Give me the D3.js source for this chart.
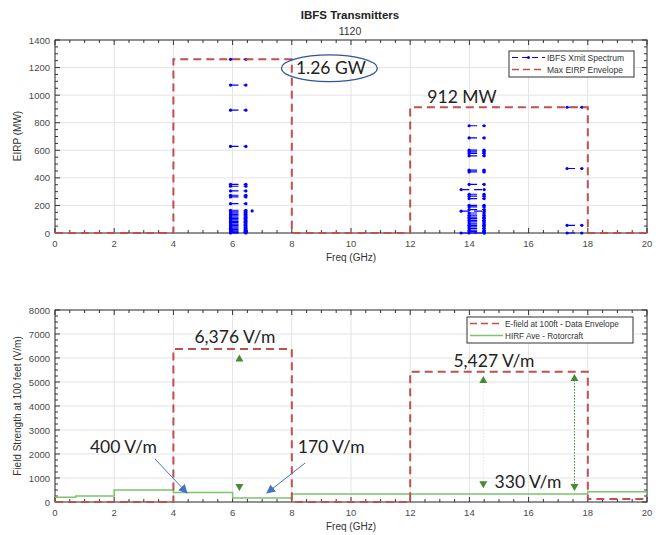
<!DOCTYPE html>
<html>
<head>
<meta charset="utf-8">
<script src="https://cdn.jsdelivr.net/npm/d3@7"></script>
<style>
  body { margin: 0; background: #fff; }
  text { font-family: "Liberation Sans", Arial, sans-serif; }
  .note { font-family: Lato, "Open Sans", sans-serif; fill: #222; }
</style>
</head>
<body>
<script>
// tick labels
const freqTicks = [0, 2, 4, 6, 8, 10, 12, 14, 16, 18, 20];
const eirpTicks = [0, 200, 400, 600, 800, 1000, 1200, 1400];
const fieldTicks = [0, 1000, 2000, 3000, 4000, 5000, 6000, 7000, 8000];

// IBFS transmitters, each one a segment [lo, hi] GHz at a power (MW)
const band6Range = [5.93, 6.45];
const band6Power = [1260, 1073, 891, 628, 353, 339, 305, 274, 262, 213, 165, 153,
  145, 135, 125, 115, 105, 95, 85, 75, 65, 55, 45, 35, 25, 15, 8, 3, 0];
const band14Range = [13.99, 14.5];
const band14Power = [778, 690, 601, 589, 577, 560, 456, 443, 352, 281, 267, 250,
  201, 189, 170, 145, 129, 115, 105, 92, 80, 66, 56, 44, 32, 20, 10, 0];
const band14WideRange = [13.72, 14.5];
const band14WidePower = [315, 158, 0];
const band17Range = [17.3, 17.8];
const band17Power = [912, 468, 56, 0];
const strayFreq = [6.66];
const strayPower = [160];

// max EIRP envelope
const envFreq = [0, 4, 4, 8, 8, 12, 12, 18, 18, 20];
const envEirp = [0, 0, 1260, 1260, 0, 0, 912, 912, 0, 0];

// field strength at 100 ft
const fieldEnvFreq = [0, 4, 4, 8, 8, 12, 12, 18, 18, 20];
const fieldEnv = [0, 0, 6376, 6376, 0, 0, 5427, 5427, 120, 120];
const hirfFreq = [0, 0.7, 0.7, 2, 2, 4, 4, 6, 6, 8, 8, 18, 18, 20];
const hirfField = [200, 200, 250, 250, 500, 500, 400, 400, 170, 170, 330, 330, 430, 430];

// green double arrows: freq, low end, high end
const gapFreq = [6.23, 14.47, 17.55];
const gapLow = [460, 570, 460];
const gapHigh = [6150, 5250, 5330];

const W = 663, H = 535;
const red = "#c0504d", blue = "#0000ff", green = "#7cc46e", dkgreen = "#4a8a35", callout = "#4472c4";

const svg = d3.select("body").append("svg")
  .attr("width", W).attr("height", H)
  .style("display", "block");

svg.append("defs").append("marker")
  .attr("id", "arrow")
  .attr("viewBox", "0 0 10 10")
  .attr("refX", 9).attr("refY", 5)
  .attr("markerWidth", 9).attr("markerHeight", 9)
  .attr("markerUnits", "userSpaceOnUse")
  .attr("orient", "auto")
  .append("path")
  .attr("d", "M0,0 L10,5 L0,10 Z")
  .style("fill", callout);

const x = d3.scaleLinear().domain([0, 20]).range([55, 647]);
const yTop = d3.scaleLinear().domain([0, 1400]).range([233, 40]);
const yBot = d3.scaleLinear().domain([0, 8000]).range([502, 310]);

function drawFrame(y, yTicks, xMinor, yMinor) {
  const [y0, y1] = y.range();
  const [x0, x1] = x.range();
  const g = svg.append("g");

  // grid
  freqTicks.forEach(t => {
    g.append("line").attr("x1", x(t)).attr("x2", x(t)).attr("y1", y0).attr("y2", y1)
      .style("stroke", "#e3e3e3").style("stroke-width", 1);
  });
  yTicks.forEach(t => {
    g.append("line").attr("x1", x0).attr("x2", x1).attr("y1", y(t)).attr("y2", y(t))
      .style("stroke", "#e3e3e3").style("stroke-width", 1);
  });

  // ticks on all four sides, pointing in
  d3.range(0, 20 + 1e-9, xMinor).forEach(t => {
    const len = freqTicks.includes(Math.round(t * 100) / 100) ? 5 : 3;
    g.append("line").attr("x1", x(t)).attr("x2", x(t)).attr("y1", y0).attr("y2", y0 - len)
      .style("stroke", "#333");
    g.append("line").attr("x1", x(t)).attr("x2", x(t)).attr("y1", y1).attr("y2", y1 + len)
      .style("stroke", "#333");
  });
  const ymax = y.domain()[1];
  d3.range(0, ymax + 1e-9, yMinor).forEach(t => {
    const len = yTicks.includes(t) ? 5 : 3;
    g.append("line").attr("x1", x0).attr("x2", x0 + len).attr("y1", y(t)).attr("y2", y(t))
      .style("stroke", "#333");
    g.append("line").attr("x1", x1).attr("x2", x1 - len).attr("y1", y(t)).attr("y2", y(t))
      .style("stroke", "#333");
  });

  g.append("rect").attr("x", x0).attr("y", y1).attr("width", x1 - x0).attr("height", y0 - y1)
    .style("fill", "none").style("stroke", "#333").style("stroke-width", 1);

  // tick labels
  freqTicks.forEach(t => {
    g.append("text").attr("x", x(t)).attr("y", y0 + 14)
      .attr("text-anchor", "middle").style("font-size", "9.5px").style("fill", "#4a4a4a")
      .text(t);
  });
  yTicks.forEach(t => {
    g.append("text").attr("x", x0 - 5).attr("y", y(t) + 3.5)
      .attr("text-anchor", "end").style("font-size", "9.5px").style("fill", "#4a4a4a")
      .text(t);
  });

  g.append("text").attr("x", (x0 + x1) / 2).attr("y", y0 + 28)
    .attr("text-anchor", "middle").style("font-size", "10px").style("fill", "#333")
    .text("Freq (GHz)");
  return g;
}

function stepLine(xs, ys, y) {
  return d3.line().x((d, i) => x(xs[i])).y((d, i) => y(ys[i]))(xs);
}

function drawLegend(bx, by, bw, items) {
  const g = svg.append("g");
  g.append("rect").attr("x", bx).attr("y", by).attr("width", bw).attr("height", 12 * items.length + 2)
    .style("fill", "#fff").style("stroke", "#333").style("stroke-width", 1);
  items.forEach((it, i) => {
    const ly = by + 6.5 + 12 * i;
    g.append("line").attr("x1", bx + 3).attr("x2", bx + 36).attr("y1", ly).attr("y2", ly)
      .style("stroke", it.color).style("stroke-width", it.width)
      .style("stroke-dasharray", it.dash);
    if (it.dots) {
      g.append("circle").attr("cx", bx + 19.5).attr("cy", ly).attr("r", 1.5)
        .style("fill", it.color);
    }
    g.append("text").attr("x", bx + 38).attr("y", ly + 3)
      .style("font-size", it.size).style("fill", "#333").text(it.label);
  });
}

// ---------- top chart ----------
svg.append("text").attr("x", 350).attr("y", 19).attr("text-anchor", "middle")
  .style("font-size", "11.5px").style("font-weight", "bold").style("fill", "#222")
  .text("IBFS Transmitters");
svg.append("text").attr("x", 350).attr("y", 35).attr("text-anchor", "middle")
  .style("font-size", "10.5px").style("fill", "#333").text("1120");

drawFrame(yTop, eirpTicks, 0.5, 50);
svg.append("text").attr("transform", "translate(21,136) rotate(-90)")
  .attr("text-anchor", "middle").style("font-size", "10px").style("fill", "#333")
  .text("EIRP (MW)");

const spectrum = svg.append("g");
function drawBand(range, powers) {
  powers.forEach(p => {
    spectrum.append("line")
      .attr("x1", x(range[0])).attr("x2", x(range[1]))
      .attr("y1", yTop(p)).attr("y2", yTop(p))
      .style("stroke", blue).style("stroke-width", 1.2).style("stroke-dasharray", "8,5");
    range.forEach(f => {
      spectrum.append("circle").attr("cx", x(f)).attr("cy", yTop(p)).attr("r", 1.6)
        .style("fill", blue);
    });
  });
}
drawBand(band6Range, band6Power);
drawBand(band14Range, band14Power);
drawBand(band14WideRange, band14WidePower);
drawBand(band17Range, band17Power);
strayFreq.forEach((f, i) => {
  spectrum.append("circle").attr("cx", x(f)).attr("cy", yTop(strayPower[i])).attr("r", 1.6)
    .style("fill", blue);
});

svg.append("path").attr("d", stepLine(envFreq, envEirp, yTop))
  .style("fill", "none").style("stroke", red).style("stroke-width", 2)
  .style("stroke-dasharray", "8,5");

// callouts on the top chart
svg.append("ellipse").attr("cx", x(9.27)).attr("cy", yTop(1195))
  .attr("rx", x(1.62) - x(0)).attr("ry", yTop(0) - yTop(97))
  .style("fill", "none").style("stroke", "#2f5597").style("stroke-width", 1.3);
svg.append("text").attr("class", "note").attr("x", x(9.32)).attr("y", yTop(1151))
  .attr("text-anchor", "middle").style("font-size", "17.5px").text("1.26 GW");
svg.append("text").attr("class", "note").attr("x", x(13.75)).attr("y", yTop(940))
  .attr("text-anchor", "middle").style("font-size", "17.5px").text("912 MW");

drawLegend(509, 51, 125, [
  { label: "IBFS Xmit Spectrum", color: blue, width: 1, dash: "6,4", dots: true, size: "8.5px" },
  { label: "Max EIRP Envelope", color: red, width: 1.5, dash: "7,4", size: "8.5px" }
]);

// ---------- bottom chart ----------
drawFrame(yBot, fieldTicks, 0.5, 250);
svg.append("text").attr("transform", "translate(21,406) rotate(-90)")
  .attr("text-anchor", "middle").style("font-size", "10px").style("fill", "#333")
  .text("Field Strength at 100 feet (V/m)");

svg.append("path").attr("d", stepLine(hirfFreq, hirfField, yBot))
  .style("fill", "none").style("stroke", green).style("stroke-width", 1.5);
svg.append("path").attr("d", stepLine(fieldEnvFreq, fieldEnv, yBot))
  .style("fill", "none").style("stroke", red).style("stroke-width", 2)
  .style("stroke-dasharray", "8,5");

// green double arrows between HIRF level and envelope
const gapStroke = ["none", "#e6e6e6", dkgreen];
const gaps = svg.append("g");
gapFreq.forEach((f, i) => {
  const gx = x(f), top = yBot(gapHigh[i]), bot = yBot(gapLow[i]);
  gaps.append("line").attr("x1", gx).attr("x2", gx).attr("y1", top + 6).attr("y2", bot - 6)
    .style("stroke", gapStroke[i]).style("stroke-width", 1)
    .style("stroke-dasharray", "1.5,1.5");
  gaps.append("path").attr("d", `M${gx},${top} l-4,7 l8,0 Z`).style("fill", dkgreen);
  gaps.append("path").attr("d", `M${gx},${bot} l-4,-7 l8,0 Z`).style("fill", dkgreen);
});

// blue callout arrows
const arrowFrom = [[3.38, 1790], [8.45, 1625]];
const arrowTo = [[4.46, 375], [7.16, 375]];
arrowFrom.forEach((a, i) => {
  svg.append("line")
    .attr("x1", x(a[0])).attr("y1", yBot(a[1]))
    .attr("x2", x(arrowTo[i][0])).attr("y2", yBot(arrowTo[i][1]))
    .style("stroke", callout).style("stroke-width", 1)
    .attr("marker-end", "url(#arrow)");
});

const noteText = ["6,376 V/m", "5,427 V/m", "330 V/m", "400 V/m", "170 V/m"];
const noteFreq = [6.08, 14.83, 15.98, 2.31, 9.33];
const noteField = [6625, 5640, 570, 2030, 2030];
noteText.forEach((t, i) => {
  svg.append("text").attr("class", "note").attr("x", x(noteFreq[i])).attr("y", yBot(noteField[i]))
    .attr("text-anchor", "middle").style("font-size", "17.5px").text(t);
});

drawLegend(467, 317, 166, [
  { label: "E-field at 100ft - Data Envelope", color: red, width: 1.5, dash: "7,4", size: "8.2px" },
  { label: "HIRF Ave - Rotorcraft", color: green, width: 1.5, dash: null, size: "8.2px" }
]);
</script>
</body>
</html>
